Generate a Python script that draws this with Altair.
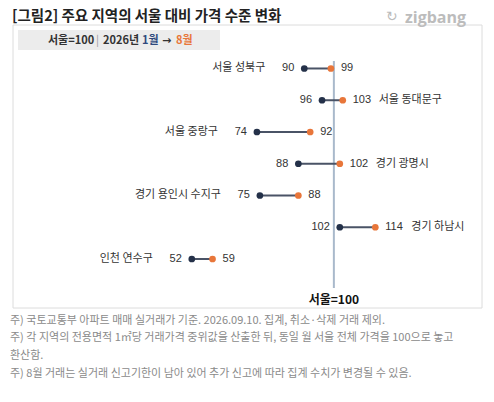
import altair as alt
import pandas as pd

regions = ["서울 성북구", "서울 동대문구", "서울 중랑구", "경기 광명시",
           "경기 용인시 수지구", "경기 하남시", "인천 연수구"]
jan = [90, 96, 74, 88, 75, 102, 52]
aug = [99, 103, 92, 102, 88, 114, 59]
ref_value = [100]

title_text = "[그림2] 주요 지역의 서울 대비 가격 수준 변화"
notes = [
    "주) 국토교통부 아파트 매매 실거래가 기준. 2026.09.10. 집계, 취소·삭제 거래 제외.",
    "주) 각 지역의 전용면적 1㎡당 거래가격 중위값을 산출한 뒤, 동일 월 서울 전체 가격을 100으로 놓고",
    "환산함.",
    "주) 8월 거래는 실거래 신고기한이 남아 있어 추가 신고에 따라 집계 수치가 변경될 수 있음.",
]

df = pd.DataFrame({
    "region": regions,
    "idx": list(range(len(regions))),
    "jan": jan,
    "aug": aug,
})
df["side"] = ["right" if a > 100 else "left" for a in aug]
ref = pd.DataFrame({"v": ref_value, "lab": ["서울=100"]})

NAVY = "#243149"
ORANGE = "#E8763A"
FONT = "Noto Sans CJK KR"

xs = alt.Scale(domain=[-10.1, 151.4], nice=False, zero=False)
ys = alt.Scale(domain=[-1.905, 10.252], nice=False, zero=False, reverse=True)

base = alt.Chart(df)
def X(f):
    return alt.X(f"{f}:Q", scale=xs, axis=None)
Y = alt.Y("idx:Q", scale=ys, axis=None)

one = pd.DataFrame({"a": [1]})

box = alt.Chart(one).mark_rect(fill="white", stroke="#dcdcdc", strokeWidth=1).encode(
    x=alt.value(5), x2=alt.value(474), y=alt.value(17), y2=alt.value(300))
header = alt.Chart(one).mark_rect(fill="#ececec").encode(
    x=alt.value(10), x2=alt.value(212), y=alt.value(22), y2=alt.value(42))

def txt(s, x, y, size=11, color="#333333", weight="normal", align="left", font=FONT,
        baseline="middle"):
    return alt.Chart(one).mark_text(text=s, align=align, baseline=baseline, fontSize=size,
                                    color=color, fontWeight=weight, font=font).encode(
        x=alt.value(x), y=alt.value(y))

title = txt(title_text, 4, 1.5, size=14.5, color="#222222", weight="bold", baseline="top")
logo = txt("zigbang", 397, 2, size=16, color="#bcbcbc", font="Open Sans", weight="bold",
           baseline="top")
logo_icon = txt("↻", 378, 2, size=14, color="#bcbcbc", font="DejaVu Sans", baseline="top")

h1 = txt("서울=100", 40, 33, size=11, color="#333333", weight="bold")
h2 = txt("|", 88, 33, size=11, color="#999999")
h3 = txt("2026년", 95, 33, size=11, color="#333333", weight="bold")
h4 = txt("1월", 134, 33, size=11, color="#2F4A7E", weight="bold")
h5 = txt("→", 154, 33, size=11, color="#333333", weight="bold", font="DejaVu Sans")
h6 = txt("8월", 168, 33, size=11, color=ORANGE, weight="bold")

note_y = [312.5, 329.5, 348, 365.5]
note_layers = [txt(n, 2, y, size=11, color="#8a8a8a") for n, y in zip(notes, note_y)]

vline = alt.Chart(ref).mark_rule(color="#a9b9cb", strokeWidth=2).encode(
    x=X("v"), y=alt.value(53), y2=alt.value(280))
vlabel = alt.Chart(ref).mark_text(fontSize=12, fontWeight="bold",
                                  font=FONT, color="#111111", baseline="middle").encode(
    x=X("v"), y=alt.value(292), text="lab:N")

conn = base.mark_rule(color="#4a5366", strokeWidth=2).encode(x=X("jan"), x2="aug:Q", y=Y)
pj = base.mark_circle(color=NAVY, size=45, opacity=1).encode(x=X("jan"), y=Y)
pa = base.mark_circle(color=ORANGE, size=45, opacity=1).encode(x=X("aug"), y=Y)

lj = base.mark_text(align="right", dx=-10, fontSize=11, color="#333333", font="Liberation Sans").encode(
    x=X("jan"), y=Y, text="jan:Q")
la = base.mark_text(align="left", dx=10, fontSize=11, color="#333333", font="Liberation Sans").encode(
    x=X("aug"), y=Y, text="aug:Q")

rl = base.transform_filter(alt.datum.side == "left").mark_text(
    align="right", dx=-39, fontSize=11, color="#333333", font=FONT).encode(
    x=X("jan"), y=Y, text="region:N")
rr = base.transform_filter(alt.datum.side == "right").mark_text(
    align="left", dx=36, fontSize=11, color="#333333", font=FONT).encode(
    x=X("aug"), y=Y, text="region:N")

chart = alt.layer(
    box, header, title, logo, logo_icon, h1, h2, h3, h4, h5, h6, *note_layers,
    vline, vlabel, conn, pj, pa, lj, la, rl, rr
).properties(
    width=478, height=386, padding=0, autosize=alt.AutoSizeParams(type="none")
).configure_view(stroke=None)

chart.save("out.html", embed_options={"renderer": "svg", "actions": False})
